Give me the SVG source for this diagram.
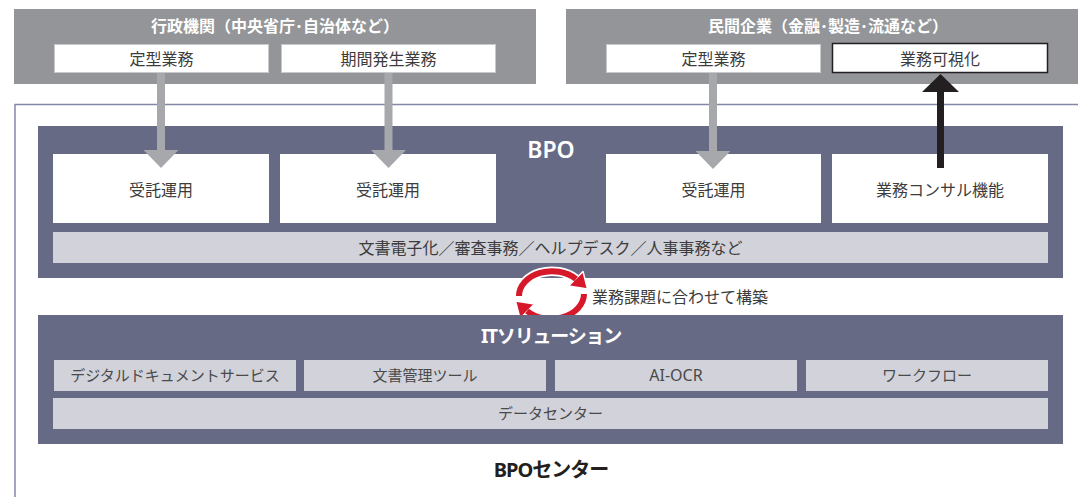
<svg xmlns="http://www.w3.org/2000/svg" width="1078" height="497" viewBox="0 0 1078 497">
<style>
  text { font-family: "Noto Sans", "Noto Sans CJK JP", sans-serif; }
  .org { fill: #939598; }
  .title { fill: #ffffff; font-size: 16px; font-weight: bold; text-anchor: middle; }
  .wbox { fill: #ffffff; stroke: #c9c9cb; stroke-width: 1; }
  .kbox { fill: #ffffff; stroke: #231f20; stroke-width: 1.5; }
  .panel { fill: #676a85; }
  .bar { fill: #d1d2da; }
  .lbl { fill: #3c3c3c; font-size: 16px; text-anchor: middle; }
  .sub { fill: #4a4a4a; font-size: 15px; text-anchor: middle; }
  .head { fill: #ffffff; font-weight: bold; text-anchor: middle; }
  .garrow { fill: #a6a8ab; }
  .barrow { fill: #231f20; }
  .frame { fill: none; stroke: #8587a8; stroke-width: 1.5; }
</style>

<g id="frame">
  <path class="frame" d="M1078 104.5 H15 V497"/>
</g>

<g id="gov">
  <rect class="org" x="14" y="9" width="522" height="75"/>
  <text class="title" x="275" y="32">行政機関（中央省庁･自治体など）</text>
  <g id="gov-routine">
    <rect class="wbox" x="54.5" y="44.5" width="214" height="28"/>
    <text class="lbl" x="161.5" y="64.5">定型業務</text>
  </g>
  <g id="gov-periodic">
    <rect class="wbox" x="281.5" y="44.5" width="214" height="28"/>
    <text class="lbl" x="388.5" y="64.5">期間発生業務</text>
  </g>
</g>

<g id="private">
  <rect class="org" x="566" y="9" width="512" height="75"/>
  <text class="title" x="828" y="32">民間企業（金融･製造･流通など）</text>
  <g id="priv-routine">
    <rect class="wbox" x="606.5" y="44.5" width="214" height="28"/>
    <text class="lbl" x="713.5" y="64.5">定型業務</text>
  </g>
  <g id="priv-visual">
    <rect class="kbox" x="832.5" y="43.5" width="215" height="29"/>
    <text class="lbl" x="940" y="64.5">業務可視化</text>
  </g>
</g>

<g id="bpo">
  <rect class="panel" x="38" y="126" width="1025" height="152"/>
  <text class="head" x="551" y="158" style="font-size:23px;font-weight:600">BPO</text>
  <g id="bpo-op1">
    <rect fill="#ffffff" x="53" y="154" width="216" height="69"/>
    <text class="lbl" x="161" y="195.5">受託運用</text>
  </g>
  <g id="bpo-op2">
    <rect fill="#ffffff" x="280" y="154" width="216" height="69"/>
    <text class="lbl" x="388" y="195.5">受託運用</text>
  </g>
  <g id="bpo-op3">
    <rect fill="#ffffff" x="606" y="154" width="215" height="69"/>
    <text class="lbl" x="713.5" y="195.5">受託運用</text>
  </g>
  <g id="bpo-consult">
    <rect fill="#ffffff" x="832" y="154" width="216" height="69"/>
    <text class="lbl" x="940" y="195.5">業務コンサル機能</text>
  </g>
  <g id="bpo-services">
    <rect class="bar" x="53" y="232" width="995" height="31"/>
    <text class="lbl" x="550.5" y="253.5">文書電子化／審査事務／ヘルプデスク／人事事務など</text>
  </g>
</g>

<g id="cycle">
  <g fill="none" stroke="#ffffff" stroke-width="9.5">
    <path d="M519 296 A33 25 0 0 1 576 279"/>
    <path d="M584 294 A33 25 0 0 1 527 311"/>
  </g>
  <g fill="#d7182a" stroke="#ffffff" stroke-width="1.5" stroke-linejoin="round">
    <polygon points="583,271.5 587.5,289 568.5,286"/>
    <polygon points="520,318.5 515.5,301 534.5,304"/>
  </g>
  <g fill="none" stroke="#d7182a" stroke-width="6">
    <path d="M519 296 A33 25 0 0 1 576 279"/>
    <path d="M584 294 A33 25 0 0 1 527 311"/>
  </g>
  <text x="592" y="302.5" style="font-size:16px;fill:#3c3c3c">業務課題に合わせて構築</text>
</g>

<g id="it">
  <rect class="panel" x="38" y="315" width="1025" height="129"/>
  <text class="head" x="551" y="343" style="font-size:19px;letter-spacing:-1.2px">ITソリューション</text>
  <g id="it-digital">
    <rect class="bar" x="54" y="360" width="242" height="31"/>
    <text class="sub" x="175" y="381">デジタルドキュメントサービス</text>
  </g>
  <g id="it-docmgmt">
    <rect class="bar" x="304" y="360" width="242" height="31"/>
    <text class="sub" x="425" y="381">文書管理ツール</text>
  </g>
  <g id="it-aiocr">
    <rect class="bar" x="555" y="360" width="242" height="31"/>
    <text class="sub" x="676" y="381" style="font-size:16px">AI-OCR</text>
  </g>
  <g id="it-workflow">
    <rect class="bar" x="806" y="360" width="242" height="31"/>
    <text class="sub" x="927" y="381">ワークフロー</text>
  </g>
  <g id="it-datacenter">
    <rect class="bar" x="53" y="398" width="995" height="31"/>
    <text class="sub" x="550.5" y="419">データセンター</text>
  </g>
</g>

<g id="center-label">
  <text x="551" y="477" style="font-size:20px;font-weight:bold;fill:#231f20;text-anchor:middle;letter-spacing:-1px">BPOセンター</text>
</g>

<g id="connectors">
  <polygon class="garrow" points="157,73 165,73 165,150 178.5,150 161,168 143.5,150 157,150"/>
  <polygon class="garrow" points="384.5,73 392.5,73 392.5,150 406,150 388.5,168 371,150 384.5,150"/>
  <polygon class="garrow" points="709,73 717,73 717,151 730.5,151 713,169 695.5,151 709,151"/>
  <polygon class="barrow" points="937,168 944,168 944,92 959,92 940.5,74 922,92 937,92"/>
</g>
</svg>
